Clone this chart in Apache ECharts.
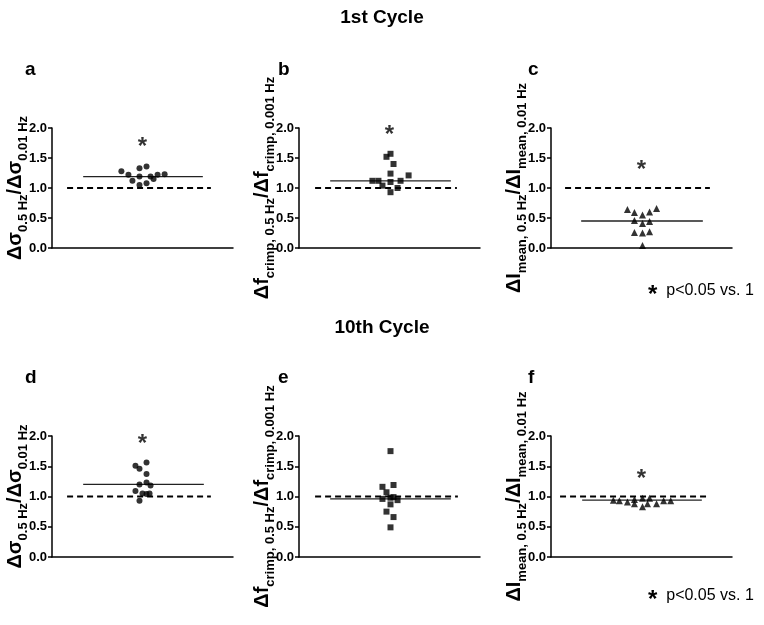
<!DOCTYPE html>
<html><head><meta charset="utf-8">
<script src="https://cdn.jsdelivr.net/npm/echarts@6/dist/echarts.min.js"></script>
<style>html,body{margin:0;padding:0;background:#fff}#c{width:764px;height:625px}</style>
</head><body><div id="c"></div>
<script>
// ---------- data ----------
const rowTitles = ['1st Cycle', '10th Cycle'];
const panelLetters = ['a', 'b', 'c', 'd', 'e', 'f'];
const sigNote = 'p<0.05 vs. 1';
const yTickMin = 0, yTickMax = 2, yTickStep = 0.5;
const refValue = 1.0;

// [jitter position, ratio]
const ptsA = [[69,1.28],[76,1.22],[80,1.12],[87,1.33],[94,1.36],[87,1.19],[87,1.05],[94,1.08],[98,1.19],[101,1.15],[105,1.22],[112,1.23]];
const ptsB = [[73,1.12],[79,1.12],[83,1.04],[87,1.52],[91,1.57],[94,1.40],[91,1.24],[91,1.10],[91,0.93],[98,1.00],[101,1.12],[109,1.21]];
const ptsC = [[76,0.64],[83,0.59],[91,0.55],[98,0.60],[105,0.66],[83,0.46],[91,0.41],[98,0.44],[83,0.26],[91,0.25],[98,0.27],[91,0.04]];
const ptsD = [[83,1.51],[87,1.46],[94,1.56],[94,1.37],[87,1.20],[94,1.23],[98,1.18],[83,1.09],[90,1.05],[94,1.04],[97,1.05],[87,0.93]];
const ptsE = [[91,1.75],[83,1.16],[94,1.19],[87,1.07],[83,0.96],[91,0.98],[94,0.99],[98,0.94],[91,0.87],[87,0.75],[94,0.66],[91,0.49]];
const ptsF = [[62,0.94],[68,0.93],[76,0.91],[83,0.88],[91,0.83],[96,0.88],[105,0.88],[112,0.93],[119,0.93],[83,0.95],[91,0.97],[98,0.97]];

const meanA = 1.19, meanB = 1.12, meanC = 0.45, meanD = 1.20, meanE = 0.96, meanF = 0.94;
const sigA = 1.76, sigB = 1.96, sigC = 1.38, sigD = 1.94, sigE = null, sigF = 1.37;

// ---------- layout / style ----------
const panels = [
  {pts: ptsA, mean: meanA, sig: sigA, sym: 'circle', size: 6, lbl: 'sigma', left: 52, top: 128, h: 120, m: [31,150], d: [15,158]},
  {pts: ptsB, mean: meanB, sig: sigB, sym: 'rect', size: 6, lbl: 'f', left: 299, top: 128, h: 120, m: [31,151], d: [16,157]},
  {pts: ptsC, mean: meanC, sig: sigC, sym: 'triangle', size: 7, lbl: 'I', left: 551, top: 128, h: 120, m: [30,151], d: [14,158]},
  {pts: ptsD, mean: meanD, sig: sigD, sym: 'circle', size: 6, lbl: 'sigma', left: 52, top: 436, h: 121, m: [31,151], d: [15,158]},
  {pts: ptsE, mean: meanE, sig: sigE, sym: 'rect', size: 6, lbl: 'f', left: 299, top: 436, h: 121, m: [31,151], d: [16,158]},
  {pts: ptsF, mean: meanF, sig: sigF, sym: 'triangle', size: 7, lbl: 'I', left: 551, top: 436, h: 121, m: [31,150], d: [9,158]}
];
const FONT = "'Liberation Sans', Arial, sans-serif";

const labelText = {
  sigma: '{b|Δσ}{s|0.5 Hz}{b|/Δσ}{s|0.01 Hz}',
  f: '{b|Δf}{s|crimp, 0.5 Hz}{b|/Δf}{s|crimp, 0.001 Hz}',
  I: '{b|ΔI}{s|mean, 0.5 Hz}{b|/ΔI}{s|mean, 0.01 Hz}'
};
const rich = {
  b: {fontSize: 20, fontWeight: 'bold', fontFamily: FONT, color: '#000', lineHeight: 20, verticalAlign: 'bottom', padding: [0, 0, 5, 0]},
  s: {fontSize: 13, fontWeight: 'bold', fontFamily: FONT, color: '#000', lineHeight: 13, verticalAlign: 'bottom'}
};

const grid = [], xAxis = [], yAxis = [], series = [];
panels.forEach((p, i) => {
  grid.push({left: p.left, top: p.top, width: 181, height: p.h, containLabel: false, outerBoundsMode: 'none'});
  xAxis.push({gridIndex: i, type: 'value', min: 0, max: 180, show: true,
    axisLine: {show: true, onZero: false, lineStyle: {color: '#000', width: 1.5}},
    axisTick: {show: false}, axisLabel: {show: false}, splitLine: {show: false}});
  yAxis.push({gridIndex: i, type: 'value', min: yTickMin, max: yTickMax, interval: yTickStep,
    axisLine: {show: true, lineStyle: {color: '#000', width: 1.5}},
    axisTick: {show: true, length: 4, lineStyle: {color: '#000', width: 1.5}},
    axisLabel: {color: '#000', fontSize: 13, fontWeight: 'bold', fontFamily: FONT, margin: 5,
      formatter: v => v.toFixed(1)},
    splitLine: {show: false},
    name: labelText[p.lbl], nameLocation: 'middle', nameGap: 22, nameRotate: 90, nameMoveOverlap: false,
    nameTextStyle: {rich: rich}});
  series.push({type: 'scatter', xAxisIndex: i, yAxisIndex: i, data: p.pts,
    symbol: p.sym, symbolSize: p.size, itemStyle: {color: '#000'}, silent: true, z: 5});
  series.push({type: 'line', xAxisIndex: i, yAxisIndex: i, data: [[p.m[0], p.mean], [p.m[1], p.mean]],
    symbol: 'none', lineStyle: {color: '#222', width: 1.3}, silent: true, z: 3});
  series.push({type: 'line', xAxisIndex: i, yAxisIndex: i, data: [[p.d[0], refValue], [p.d[1], refValue]],
    symbol: 'none', lineStyle: {color: '#000', width: 1.8, type: [6, 4]}, silent: true, z: 3});
  if (p.sig !== null) {
    series.push({type: 'scatter', xAxisIndex: i, yAxisIndex: i, data: [[90, p.sig]],
      symbolSize: 0, silent: true,
      label: {show: true, position: 'inside', formatter: '*', color: '#000', fontSize: 24,
        fontWeight: 'bold', fontFamily: FONT, offset: [0, 5]}});
  }
});

const graphic = [];
rowTitles.forEach((t, r) => {
  graphic.push({type: 'text', left: 'center', top: r === 0 ? 8 : 318,
    style: {text: t, font: "bold 19px " + FONT, fill: '#000'}});
});
const letterPos = [[25, 60], [278, 60], [528, 60], [25, 368], [278, 368], [528, 368]];
panelLetters.forEach((l, i) => {
  graphic.push({type: 'text', left: letterPos[i][0], top: letterPos[i][1],
    style: {text: l, font: "bold 19px " + FONT, fill: '#000'}});
});
[283, 588].forEach(y => {
  graphic.push({type: 'text', left: 648, top: y,
    style: {text: '{a|*}{p|  ' + sigNote + '}',
      rich: {a: {fontSize: 24, fontWeight: 'bold', fontFamily: FONT, padding: [8, 0, 0, 0]},
             p: {fontSize: 16, fontFamily: FONT}}, fill: '#000'}});
});

const chart = echarts.init(document.getElementById('c'), null, {renderer: 'canvas'});
chart.setOption({animation: false, backgroundColor: '#fff', grid, xAxis, yAxis, series, graphic});
</script></body></html>
